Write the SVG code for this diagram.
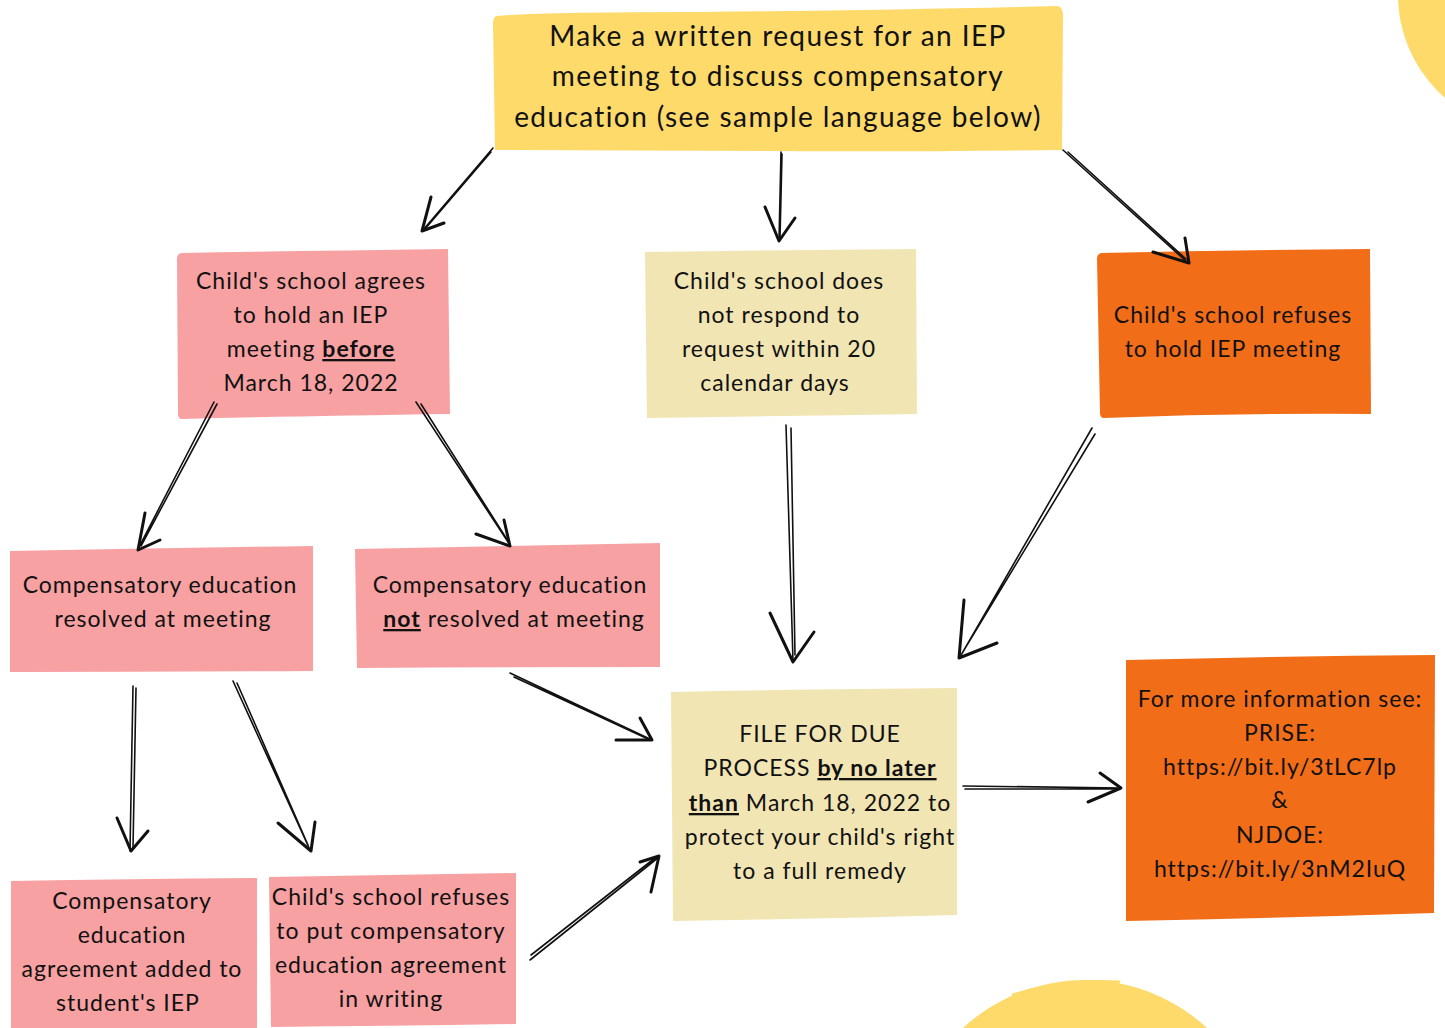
<svg xmlns="http://www.w3.org/2000/svg" width="1445" height="1028" viewBox="0 0 1445 1028">
<style>
.t{font-family:Lato,"Noto Sans","Liberation Sans",sans-serif;fill:#111;text-anchor:middle}
.s{font-size:23px;letter-spacing:1px}
.b{font-size:28px;letter-spacing:1.4px}
.u{text-decoration:underline;font-weight:bold}
.yel{fill:#FEDA6A}.pink{fill:#F7A1A3}.beige{fill:#F1E5B4}.orange{fill:#F26D17}
.a{fill:none;stroke:#111;stroke-width:1.6;stroke-linecap:round;stroke-linejoin:round}
.h{fill:none;stroke:#111;stroke-width:3;stroke-linecap:round;stroke-linejoin:round}
</style>
<rect width="1445" height="1028" fill="#fff"/>
<circle cx="1534" cy="-5" r="136" fill="#FEDA6A"/>
<circle cx="1085" cy="1159" r="179" fill="#FEDA6A"/>
<path d="M1048,986 Q1080,980 1120,982" stroke="#FEDA6A" stroke-width="3" fill="none"/>
<path d="M1012,995 L1033,989" stroke="#FEDA6A" stroke-width="2.5" fill="none"/>

<g id="n-request">
<path class="yel" d="M497,16 Q540,12 700,12 Q900,10 1058,6 Q1064,8 1063,20 L1062,150 Q900,152 780,151 L495,150 L493,22 Q494,16 497,16Z"/>
<text class="t b" x="778" y="46">Make a written request for an IEP</text>
<text class="t b" x="778" y="86">meeting to discuss compensatory</text>
<text class="t b" x="778" y="127">education (see sample language below)</text>
</g>

<g id="n-agrees">
<path class="pink" d="M182,253 Q300,251 448,249 L450,414 Q300,416 182,419 Q178,419 178,414 L177,258 Q178,253 182,253Z"/>
<text class="t s" x="311" y="289">Child's school agrees</text>
<text class="t s" x="311" y="323">to hold an IEP</text>
<text class="t s" x="311" y="357">meeting <tspan class="u">before</tspan></text>
<text class="t s" x="311" y="391">March 18, 2022</text>
</g>

<g id="n-noresponse">
<path class="beige" d="M645,252 Q780,250 916,249 L917,414 Q780,416 647,418 Z"/>
<text class="t s" x="779" y="289">Child's school does</text>
<text class="t s" x="779" y="323">not respond to</text>
<text class="t s" x="779" y="357">request within 20</text>
<text class="t s" x="775" y="391">calendar days</text>
</g>

<g id="n-refuses">
<path class="orange" d="M1102,253 Q1240,250 1370,249 L1371,414 Q1240,413 1104,418 Q1100,418 1100,413 L1097,258 Q1098,253 1102,253Z"/>
<text class="t s" x="1233" y="323">Child's school refuses</text>
<text class="t s" x="1233" y="357">to hold IEP meeting</text>
</g>

<g id="n-resolved">
<path class="pink" d="M10,551 Q160,548 313,546 L313,671 Q160,672 10,672 Z"/>
<text class="t s" x="160" y="593">Compensatory education</text>
<text class="t s" x="163" y="627">resolved at meeting</text>
</g>

<g id="n-notresolved">
<path class="pink" d="M355,549 Q510,546 660,543 L660,667 Q510,667 357,668 Z"/>
<text class="t s" x="510" y="593">Compensatory education</text>
<text class="t s" x="514" y="627"><tspan class="u">not</tspan> resolved at meeting</text>
</g>

<g id="n-dueprocess">
<path class="beige" d="M671,692 Q820,689 957,688 L957,915 Q820,919 673,921 Z"/>
<text class="t s" x="820" y="742">FILE FOR DUE</text>
<text class="t s" x="820" y="776">PROCESS <tspan class="u">by no later</tspan></text>
<text class="t s" x="820" y="811"><tspan class="u">than</tspan> March 18, 2022 to</text>
<text class="t s" x="820" y="845">protect your child's right</text>
<text class="t s" x="820" y="879">to a full remedy</text>
</g>

<g id="n-info">
<path class="orange" d="M1126,660 Q1280,656 1435,655 L1434,913 Q1280,918 1126,921 Z"/>
<text class="t s" x="1280" y="707">For more information see:</text>
<text class="t s" x="1280" y="741">PRISE:</text>
<text class="t s" x="1280" y="775">https://bit.ly/3tLC7lp</text>
<text class="t s" x="1280" y="808">&amp;</text>
<text class="t s" x="1280" y="843">NJDOE:</text>
<text class="t s" x="1280" y="877">https://bit.ly/3nM2IuQ</text>
</g>

<g id="n-added">
<path class="pink" d="M11,881 Q130,879 257,878 L257,1028 L11,1028 Z"/>
<text class="t s" x="132" y="909">Compensatory</text>
<text class="t s" x="132" y="943">education</text>
<text class="t s" x="132" y="977">agreement added to</text>
<text class="t s" x="128" y="1011">student's IEP</text>
</g>

<g id="n-refuseswriting">
<path class="pink" d="M269,877 Q390,875 516,873 L516,1024 Q390,1026 271,1027 Z"/>
<text class="t s" x="391" y="905">Child's school refuses</text>
<text class="t s" x="391" y="939">to put compensatory</text>
<text class="t s" x="391" y="973">education agreement</text>
<text class="t s" x="391" y="1007">in writing</text>
</g>

<g id="connectors">
<path class="a" d="M493,148 L423,230 M491,152 L425,229"/>
<path class="h" d="M431,197 L422,231 L444,223"/>
<path class="a" d="M781,152 L779,241 M782,154 L780,238"/>
<path class="h" d="M765,207 L779,241 L795,218"/>
<path class="a" d="M1063,150 L1188,263 M1068,152 L1186,259"/>
<path class="h" d="M1185,238 L1189,263 L1153,252"/>
<path class="a" d="M214,402 L138,549 M217,404 L141,546"/>
<path class="h" d="M145,513 L138,550 L160,540"/>
<path class="a" d="M416,402 L510,545 M421,404 L508,541"/>
<path class="h" d="M504,520 L510,546 L476,534"/>
<path class="a" d="M786,425 L793,661 M791,428 L795,655"/>
<path class="h" d="M770,613 L793,662 L814,632"/>
<path class="a" d="M1092,428 L960,657 M1095,434 L964,650"/>
<path class="h" d="M964,600 L959,658 L997,643"/>
<path class="a" d="M510,673 L652,740 M514,677 L648,739"/>
<path class="h" d="M640,718 L652,740 L616,740"/>
<path class="a" d="M133,686 L130,851 M136,688 L133,848"/>
<path class="h" d="M117,818 L131,851 L148,831"/>
<path class="a" d="M233,681 L310,850 M237,683 L308,845"/>
<path class="h" d="M315,822 L311,851 L278,823"/>
<path class="a" d="M530,960 L659,857 M531,955 L655,858"/>
<path class="h" d="M640,862 L659,856 L651,892"/>
<path class="a" d="M963,786 L1121,788 M965,789 L1118,789"/>
<path class="h" d="M1100,773 L1121,788 L1088,802"/>
</g>
</svg>
